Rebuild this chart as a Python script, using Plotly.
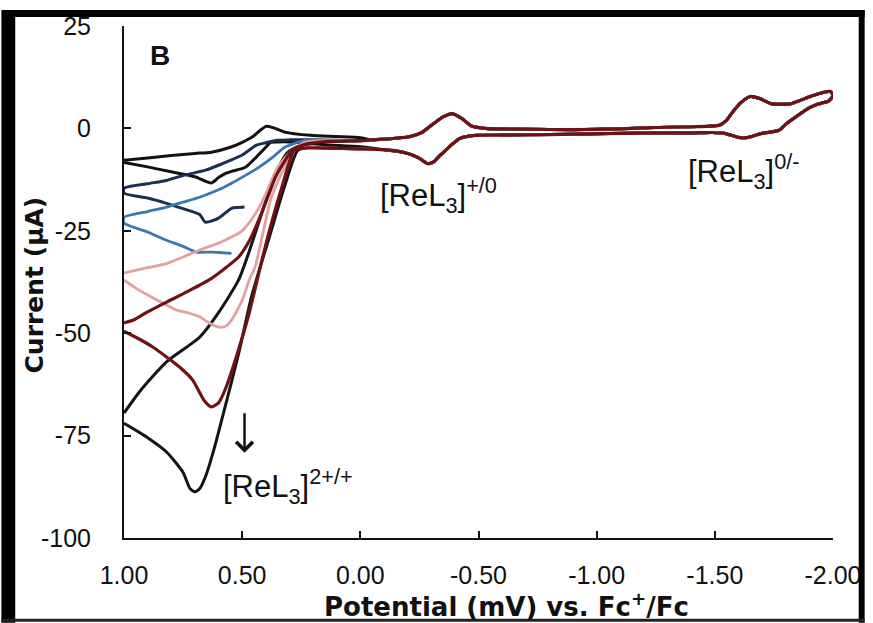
import plotly.graph_objects as go

# ---------------- data ----------------
# shared middle/right part of the voltammograms (all scans overlap there)
MID_UP_X = [-0.05, -0.15, -0.21, -0.26, -0.29, -0.32, -0.35, -0.39, -0.43, -0.47, -0.53, -0.7, -0.9, -1.1,
            -1.24, -1.4, -1.52, -1.55, -1.57, -1.61, -1.65, -1.69, -1.74, -1.82, -1.86, -1.895, -1.93, -1.96, -1.99]
MID_UP_Y = [-2.8, -2.4, -2.0, -1.0, 0.3, 1.6, 2.8, 3.6, 2.4, 0.6, 0.0, -0.2, -0.3, -0.1,
            0.2, 0.4, 0.8, 2.0, 3.6, 6.3, 7.8, 7.3, 6.0, 6.0, 6.8, 7.6, 8.3, 8.8, 9.0]
MID_DN_X = [-2.0, -1.98, -1.96, -1.93, -1.895, -1.84, -1.8, -1.77, -1.70, -1.64, -1.60, -1.54, -1.49, -1.4,
            -1.24, -1.0, -0.8, -0.6, -0.49, -0.45, -0.42, -0.39, -0.36, -0.33, -0.31, -0.285, -0.25, -0.21, -0.18, -0.1]
MID_DN_Y = [8.0, 6.6, 6.3, 5.8, 4.9, 2.7, 1.0, -0.5, -1.2, -2.2, -2.2, -1.2, -1.0, -1.1,
            -1.1, -1.3, -1.5, -1.6, -1.7, -2.0, -2.5, -3.8, -5.4, -7.0, -8.2, -8.6, -7.3, -6.3, -5.8, -5.2]

# scan 1 (black, smallest)
C1_UP_X = [1.0, 0.9, 0.8, 0.7, 0.63, 0.55, 0.5, 0.45, 0.42, 0.40, 0.37, 0.32, 0.21, 0.1, 0.0]
C1_UP_Y = [-7.8, -7.2, -6.6, -6.1, -5.8, -4.6, -3.4, -1.8, -0.3, 0.5, 0.2, -0.9, -1.7, -2.0, -2.3]
C1_DN_X = [0.0, 0.15, 0.3, 0.35, 0.38, 0.40, 0.44, 0.486, 0.545, 0.57, 0.60, 0.63, 0.7, 0.8, 0.9, 1.0]
C1_DN_Y = [-4.5, -4.0, -3.3, -3.3, -3.4, -4.6, -7.0, -9.5, -10.5, -11.0, -12.0, -13.3, -11.8, -10.6, -9.4, -8.3]

# scan 2 (dark navy)
C2_LO_X = [0.49, 0.52, 0.545, 0.60, 0.655, 0.68, 0.75, 0.82, 0.9, 1.0]
C2_LO_Y = [-19.2, -19.3, -19.5, -21.9, -22.9, -21.0, -19.6, -18.3, -17.0, -15.8]
C2_UP_X = [1.0, 0.9, 0.82, 0.75, 0.655, 0.6, 0.5, 0.44, 0.4, 0.35, 0.3, 0.2, 0.1, 0.0]
C2_UP_Y = [-14.6, -13.5, -12.7, -11.5, -10.2, -9.0, -6.5, -4.1, -3.5, -2.9, -2.8, -2.8, -2.9, -3.0]

# scan 3 (steel blue)
C3_LO_X = [0.545, 0.6, 0.63, 0.695, 0.75, 0.82, 0.9, 1.0]
C3_LO_Y = [-30.5, -30.3, -30.2, -30.2, -28.8, -27.3, -25.3, -23.1]
C3_UP_X = [1.0, 0.9, 0.82, 0.75, 0.68, 0.6, 0.545, 0.49, 0.43, 0.37, 0.32, 0.235, 0.15, 0.07, 0.0]
C3_UP_Y = [-21.7, -20.3, -19.2, -18.0, -16.8, -15.0, -13.4, -11.6, -9.5, -7.0, -4.6, -2.9, -2.9, -3.0, -3.0]

# scan 4 (pink)
C4_UP_X = [1.0, 0.9, 0.82, 0.75, 0.68, 0.6, 0.545, 0.5, 0.47, 0.43, 0.40, 0.35, 0.29, 0.235, 0.15, 0.0]
C4_UP_Y = [-35.3, -34.0, -33.0, -31.4, -29.7, -28.0, -26.5, -25.0, -23.0, -19.5, -16.0, -9.5, -5.4, -3.4, -3.0, -3.0]
C4_DN_X = [0.0, 0.15, 0.22, 0.265, 0.29, 0.32, 0.35, 0.38, 0.41, 0.445, 0.47, 0.50, 0.545, 0.57, 0.60,
           0.64, 0.68, 0.73, 0.78, 0.84, 0.89, 0.95, 1.0]
C4_DN_Y = [-5.0, -4.8, -4.6, -4.6, -6.0, -9.5, -13.0, -17.5, -25.0, -33.8, -37.0, -42.0, -46.8, -48.3, -48.5,
           -47.5, -46.0, -45.0, -44.3, -42.5, -41.0, -39.0, -37.0]

# scan 5 (dark red)
C5_UP_X = [1.0, 0.96, 0.9, 0.82, 0.73, 0.64, 0.58, 0.515, 0.47, 0.43, 0.39, 0.36, 0.32, 0.29, 0.24, 0.15, 0.0]
C5_UP_Y = [-47.5, -46.8, -44.8, -42.4, -39.8, -37.0, -34.5, -31.4, -27.5, -22.4, -16.5, -12.0, -8.0, -5.4, -4.0, -3.2, -3.0]
C5_DN_X = [0.0, 0.15, 0.24, 0.28, 0.33, 0.38, 0.42, 0.47, 0.515, 0.57, 0.6, 0.63, 0.66, 0.71, 0.76, 0.82, 0.88, 0.94, 1.0]
C5_DN_Y = [-5.0, -4.8, -4.8, -5.4, -14.0, -24.0, -33.0, -45.0, -54.0, -63.5, -67.0, -68.0, -66.5, -61.4, -58.5, -55.8,
           -53.3, -51.3, -49.5]

# scan 6 (black, largest)
C6_UP_X = [1.0, 0.93, 0.82, 0.68, 0.6, 0.515, 0.47, 0.43, 0.39, 0.35, 0.31, 0.26, 0.15, 0.0]
C6_UP_Y = [-69.5, -64.0, -57.0, -51.0, -45.0, -37.0, -30.0, -23.0, -16.0, -10.0, -6.0, -4.3, -3.3, -3.0]
C6_DN_X = [0.0, 0.15, 0.22, 0.265, 0.32, 0.39, 0.46, 0.515, 0.57, 0.62, 0.655, 0.68, 0.70, 0.72, 0.75, 0.82, 0.9, 1.0]
C6_DN_Y = [-5.0, -4.8, -4.6, -5.4, -14.0, -27.5, -41.0, -55.0, -67.5, -78.5, -85.0, -88.0, -88.7, -88.0, -84.0, -79.0,
           -75.5, -72.0]

X_TICKS = [1.0, 0.5, 0.0, -0.5, -1.0, -1.5, -2.0]
X_TICKTEXT = ["1.00", "0.50", "0.00", "-0.50", "-1.00", "-1.50", "-2.00"]
Y_TICKS = [25, 0, -25, -50, -75, -100]
Y_TICKTEXT = ["25", "0", "-25", "-50", "-75", "-100"]

# ---------------- figure ----------------
W, H = 873, 623
ML, MR, MT, MB = 124, 32, 25, 85
PW, PH = W - ML - MR, H - MT - MB


def px(xp):
    return (xp - ML) / PW


def py(yp):
    return (H - MB - yp) / PH


# (name, x, y, colour, width) in drawing order
scans = [
    ("scan6", C6_UP_X + MID_UP_X + MID_DN_X + C6_DN_X, C6_UP_Y + MID_UP_Y + MID_DN_Y + C6_DN_Y, "#141414", 3.0),
    ("scan1", C1_UP_X + MID_UP_X + MID_DN_X + C1_DN_X, C1_UP_Y + MID_UP_Y + MID_DN_Y + C1_DN_Y, "#121212", 3.0),
    ("scan2", C2_LO_X + C2_UP_X + MID_UP_X + MID_DN_X, C2_LO_Y + C2_UP_Y + MID_UP_Y + MID_DN_Y, "#1c2e50", 3.0),
    ("scan3", C3_LO_X + C3_UP_X + MID_UP_X + MID_DN_X, C3_LO_Y + C3_UP_Y + MID_UP_Y + MID_DN_Y, "#3a78ad", 2.8),
    ("scan4", C4_UP_X + MID_UP_X + MID_DN_X + C4_DN_X, C4_UP_Y + MID_UP_Y + MID_DN_Y + C4_DN_Y, "#e3a2a2", 2.8),
    ("scan5", C5_UP_X + MID_UP_X + MID_DN_X + C5_DN_X, C5_UP_Y + MID_UP_Y + MID_DN_Y + C5_DN_Y, "#6e1214", 3.2),
]

fig = go.Figure()
for name, xs, ys, col, lw in scans:
    fig.add_trace(go.Scatter(x=xs, y=ys, mode="lines", name=name,
                             line=dict(color=col, width=lw, shape="spline", smoothing=0.6),
                             hoverinfo="skip"))

tickfont = dict(family="Liberation Sans, Arial, sans-serif", size=25, color="#111111")
fig.update_layout(
    width=W, height=H,
    margin=dict(l=ML, r=MR, t=MT, b=MB),
    paper_bgcolor="white", plot_bgcolor="white",
    showlegend=False,
    xaxis=dict(range=[1.0, -2.0], tickvals=X_TICKS, ticktext=X_TICKTEXT, showgrid=False, zeroline=False,
               showline=True, linecolor="#111111", linewidth=2, ticks="inside", ticklen=7, tickwidth=2,
               tickcolor="#111111", tickfont=tickfont, ticklabelstandoff=14),
    yaxis=dict(range=[-100, 25], tickvals=Y_TICKS, ticktext=Y_TICKTEXT, showgrid=False, zeroline=False,
               showline=True, linecolor="#111111", linewidth=2, ticks="inside", ticklen=7, tickwidth=2,
               tickcolor="#111111", tickfont=tickfont, ticklabelstandoff=26),
)

annfont = dict(family="Liberation Sans, Arial, sans-serif", size=31, color="#111111")
fig.add_annotation(x=0.90, y=17.8, xref="x", yref="y", text="<b>B</b>", showarrow=False,
                   xanchor="left", yanchor="middle",
                   font=dict(family="Liberation Sans, Arial, sans-serif", size=28, color="#111111"))
fig.add_annotation(x=-0.075, y=-16.5, xref="x", yref="y", text="[ReL<sub>3</sub>]<sup>+/0</sup>",
                   showarrow=False, xanchor="left", yanchor="middle", font=annfont)
fig.add_annotation(x=-1.38, y=-10.5, xref="x", yref="y", text="[ReL<sub>3</sub>]<sup>0/-</sup>",
                   showarrow=False, xanchor="left", yanchor="middle", font=annfont)
fig.add_annotation(x=0.59, y=-87.5, xref="x", yref="y", text="[ReL<sub>3</sub>]<sup>2+/+</sup>",
                   showarrow=False, xanchor="left", yanchor="middle", font=annfont)
fig.add_annotation(x=0.49, y=-79.2, ax=0.49, ay=-69.2, xref="x", yref="y", axref="x", ayref="y",
                   text="", showarrow=True, arrowhead=4, arrowsize=1.3, arrowwidth=2.5,
                   arrowcolor="#111111", standoff=0)

titlefont = dict(family="DejaVu Sans, sans-serif", size=26, color="#111111")
fig.add_annotation(x=px(511), y=py(605), xref="paper", yref="paper",
                   text="<b>Potential (mV) vs. Fc<sup>+</sup>/Fc</b>", showarrow=False,
                   xanchor="center", yanchor="middle", font=titlefont)
fig.add_annotation(x=px(33), y=py(285), xref="paper", yref="paper", text="<b>Current (μA)</b>",
                   showarrow=False, textangle=-90, xanchor="center", yanchor="middle",
                   font=dict(family="DejaVu Sans, sans-serif", size=25, color="#111111"))

# photo frame around the figure
frame = [
    (8, 9, 873, 16, "#000000"),
    (0, 9, 14, 623, "#000000"),
    (867, 9, 873, 623, "#000000"),
    (0, 619, 873, 622, "#222222"),
]
for x0, y0, x1, y1, c in frame:
    fig.add_shape(type="rect", xref="paper", yref="paper", x0=px(x0), x1=px(x1), y0=py(y1), y1=py(y0),
                  fillcolor=c, line=dict(width=0), layer="above")

fig.write_html("out.html")
